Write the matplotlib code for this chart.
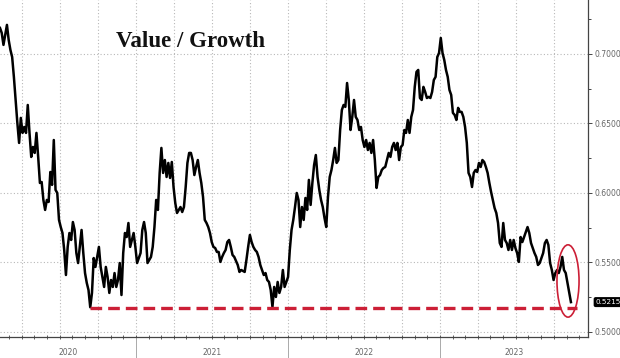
import numpy as np
import pandas as pd
import matplotlib
matplotlib.use("Agg")
import matplotlib.pyplot as plt
import matplotlib.dates as mdates
import matplotlib.patches as patches
import matplotlib.transforms as mtransforms
from matplotlib.ticker import MultipleLocator, FormatStrFormatter

# Value / Growth ratio (roughly every 4 days)
START = "2020-02-09"
END = "2023-11-11"

ratio_a = [0.7187, 0.7151, 0.7065, 0.7137, 0.7209, 0.7101, 0.7029, 0.6978, 0.6835, 0.6669,
           0.6504, 0.6360, 0.6540, 0.6432, 0.6475, 0.6432, 0.6633, 0.6432, 0.6259, 0.6331,
           0.6288, 0.6432, 0.6259, 0.6072, 0.6079, 0.5950, 0.5878, 0.5950, 0.5935, 0.6151,
           0.6058, 0.6381, 0.6022, 0.6000, 0.5806, 0.5755, 0.5712, 0.5590, 0.5410, 0.5612,
           0.5712, 0.5662, 0.5791, 0.5734, 0.5568, 0.5496, 0.5612, 0.5734, 0.5568, 0.5424,
           0.5353, 0.5302, 0.5178, 0.5281, 0.5532, 0.5468, 0.5540, 0.5612, 0.5468, 0.5396,
           0.5324, 0.5468, 0.5396, 0.5281, 0.5374, 0.5324, 0.5424, 0.5324, 0.5374, 0.5496,
           0.5266, 0.5568, 0.5712, 0.5683, 0.5784, 0.5612, 0.5662, 0.5712, 0.5612, 0.5496,
           0.5532, 0.5568, 0.5734, 0.5791, 0.5712, 0.5496, 0.5518]
ratio_b = [0.5540, 0.5612, 0.5755, 0.5950, 0.5878, 0.6144, 0.6324, 0.6144, 0.6237, 0.6115,
           0.6216, 0.6108, 0.6223, 0.6043, 0.5928, 0.5856, 0.5878, 0.5899, 0.5863, 0.5899,
           0.6043, 0.6216, 0.6288, 0.6288, 0.6237, 0.6129, 0.6187, 0.6237, 0.6144, 0.6072,
           0.5971, 0.5806, 0.5784, 0.5755, 0.5712, 0.5647, 0.5612, 0.5604, 0.5576, 0.5576,
           0.5504, 0.5540, 0.5568, 0.5590, 0.5647, 0.5662, 0.5612, 0.5554, 0.5540, 0.5511,
           0.5482, 0.5432, 0.5446, 0.5439, 0.5432, 0.5518, 0.5612, 0.5698, 0.5647, 0.5612,
           0.5590, 0.5576, 0.5540, 0.5482, 0.5446, 0.5410, 0.5424, 0.5374, 0.5360, 0.5302,
           0.5180, 0.5324, 0.5252, 0.5360, 0.5281, 0.5324, 0.5446, 0.5324, 0.5360, 0.5396]
ratio_c = [0.5590, 0.5734, 0.5806, 0.5899, 0.6000, 0.5950, 0.5755, 0.5899, 0.5806, 0.5964,
           0.5878, 0.6094, 0.5914, 0.6072, 0.6201, 0.6273, 0.6115, 0.6022, 0.5950, 0.5899,
           0.5820, 0.5755, 0.5971, 0.6115, 0.6165, 0.6237, 0.6324, 0.6216, 0.6237, 0.6453,
           0.6597, 0.6633, 0.6619, 0.6791, 0.6669, 0.6453, 0.6547, 0.6669, 0.6547, 0.6525,
           0.6453, 0.6475, 0.6381, 0.6331, 0.6381, 0.6309, 0.6360, 0.6288, 0.6381, 0.6237,
           0.6036, 0.6115, 0.6129, 0.6165, 0.6180, 0.6187, 0.6237, 0.6288, 0.6259, 0.6331,
           0.6360, 0.6309, 0.6360, 0.6237, 0.6331, 0.6345, 0.6453, 0.6432, 0.6525, 0.6432,
           0.6547, 0.6597, 0.6763, 0.6871, 0.6885, 0.6683, 0.6669, 0.6763, 0.6727, 0.6683,
           0.6691, 0.6683, 0.6727, 0.6813, 0.6835, 0.6978, 0.7007]
ratio_d = [0.7115, 0.7007, 0.6957, 0.6885, 0.6835, 0.6741, 0.6705, 0.6576, 0.6561, 0.6525,
           0.6612, 0.6583, 0.6583, 0.6547, 0.6475, 0.6360, 0.6144, 0.6115, 0.6043, 0.6144,
           0.6165, 0.6151, 0.6216, 0.6187, 0.6237, 0.6223, 0.6187, 0.6144, 0.6072, 0.6007,
           0.5950, 0.5892, 0.5856, 0.5784, 0.5640, 0.5612, 0.5784, 0.5662, 0.5640, 0.5590,
           0.5662, 0.5590, 0.5662, 0.5604, 0.5568, 0.5504, 0.5683, 0.5647, 0.5683, 0.5719,
           0.5755, 0.5712, 0.5640, 0.5604, 0.5568, 0.5540, 0.5482, 0.5496, 0.5532, 0.5568,
           0.5640, 0.5662, 0.5626, 0.5496, 0.5446, 0.5374, 0.5424, 0.5446, 0.5424, 0.5468,
           0.5540, 0.5446, 0.5424, 0.5353, 0.5281, 0.5215]

TITLE = "Value / Growth"
YEARS = [2020, 2021, 2022, 2023]
FLOOR = 0.5175

ratio = np.array(ratio_a + ratio_b + ratio_c + ratio_d)
dates = pd.date_range(START, END, periods=len(ratio))

GRID = '#b8b8b8'
AXIS = '#444444'
TXT = '#666666'
RED = '#cc1f36'

fig = plt.figure(figsize=(6.2, 3.58), dpi=100)
ax = fig.add_axes([0.0, 21/358, 588/620, 337/358])

ax.plot(dates, ratio, color='black', lw=1.8, zorder=3)

ax.set_xlim(pd.Timestamp("2020-02-09"), pd.Timestamp("2023-12-22"))
ax.set_ylim(0.4964, 0.7388)

# grid
ax.xaxis.set_major_locator(mdates.MonthLocator(bymonth=[1, 4, 7, 10]))
ax.xaxis.set_minor_locator(mdates.MonthLocator())
ax.xaxis.set_major_formatter(plt.NullFormatter())
ax.yaxis.set_major_locator(MultipleLocator(0.05))
ax.yaxis.set_minor_locator(MultipleLocator(0.025))
ax.yaxis.set_major_formatter(FormatStrFormatter('%.4f'))
ax.grid(True, which='major', color=GRID, lw=0.8, linestyle=(0, (1, 2)))

ax.yaxis.tick_right()
ax.tick_params(axis='y', which='both', direction='out', colors=AXIS,
               labelcolor=TXT, labelsize=5.5, pad=1.5)
ax.tick_params(axis='y', which='major', length=3, width=0.7)
ax.tick_params(axis='y', which='minor', length=2, width=0.7)
ax.tick_params(axis='x', which='both', direction='inout', colors=AXIS, length=3, width=0.6)

for s in ['left', 'top']:
    ax.spines[s].set_visible(False)
for s in ['right', 'bottom']:
    ax.spines[s].set_color(AXIS)
    ax.spines[s].set_linewidth(0.9)

# year labels and separators under the axis
blend = mtransforms.blended_transform_factory(ax.transData, ax.transAxes)
x0, x1 = ax.get_xlim()
for yr in YEARS:
    a = max(mdates.date2num(pd.Timestamp(f"{yr}-01-01")), x0)
    b = min(mdates.date2num(pd.Timestamp(f"{yr + 1}-01-01")), x1)
    ax.text((a + b) / 2, -0.047, str(yr), transform=blend, ha='center', va='center',
            fontsize=5.5, color=TXT)
    if yr > YEARS[0]:
        ax.plot([a, a], [0, -0.07], transform=blend, color='#aaaaaa', lw=0.7, clip_on=False)

# last value tag
last = ratio[-1]
ax.text(1.013, last, f"{last:.4f}", transform=ax.get_yaxis_transform(),
        ha='left', va='center', fontsize=5.2, color='white',
        bbox=dict(boxstyle='round,pad=0.18', fc='black', ec='black'))

# support line from the 2020 low
i_low = int(np.argmin(ratio[:len(ratio_a)]))
ax.plot([dates[i_low], dates[-1] + pd.Timedelta(days=15)], [FLOOR, FLOOR],
        color=RED, lw=2.4, dashes=(3.5, 1.8), zorder=4)

# circle round the latest drop
ell = patches.Ellipse((mdates.date2num(dates[-1]) - 7, 0.5367), width=53, height=0.052,
                      fill=False, edgecolor=RED, lw=1.2, zorder=5)
ax.add_patch(ell)

ax.text(0.324, 0.876, TITLE, transform=ax.transAxes, ha='center', va='center',
        fontsize=16.5, fontweight='bold', family='Liberation Serif', color='#111111')

fig.savefig('out.png', dpi=100)
